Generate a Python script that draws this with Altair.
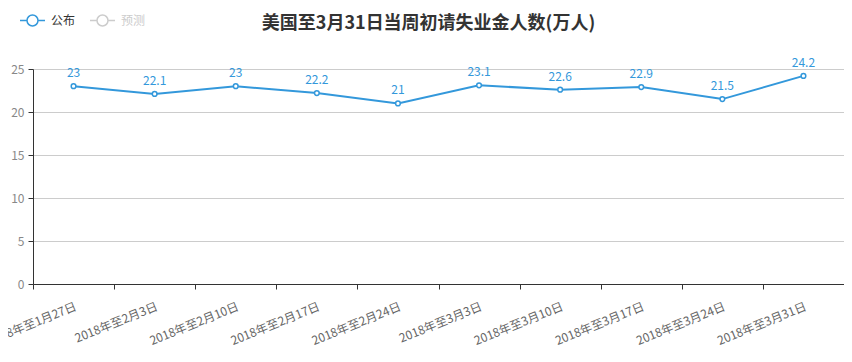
import altair as alt
import pandas as pd

categories = ["2018年至1月27日", "2018年至2月3日", "2018年至2月10日", "2018年至2月17日",
              "2018年至2月24日", "2018年至3月3日", "2018年至3月10日", "2018年至3月17日",
              "2018年至3月24日", "2018年至3月31日"]
published = [23, 22.1, 23, 22.2, 21, 23.1, 22.6, 22.9, 21.5, 24.2]
series_names = ["公布", "预测"]

BLUE = "#3398DB"
FONT = "Noto Sans CJK SC"

df = pd.DataFrame({"week": categories, "value": published, "series": series_names[0]})

x = alt.X("week:N", sort=categories, title=None,
          scale=alt.Scale(paddingInner=0, paddingOuter=0),
          axis=alt.Axis(tickBand="extent", labelAngle=-22, labelAlign="right",
                        labelBaseline="top", labelPadding=12, tickSize=5,
                        domainColor="#333", tickColor="#333", labelColor="#666",
                        labelFontSize=12, labelFont=FONT, grid=False))
y = alt.Y("value:Q", title=None,
          scale=alt.Scale(domain=[0, 25], nice=False),
          axis=alt.Axis(values=[0, 5, 10, 15, 20, 25], tickSize=5, labelPadding=4,
                        domainColor="#333", tickColor="#333", labelColor="#888",
                        labelFontSize=12, labelFont=FONT, gridColor="#ccc"))

legend_path = ("M-1,0L-0.44,0M0.44,0L1,0"
               "M-0.44,0A0.44,0.44 0 1,1 0.44,0A0.44,0.44 0 1,1 -0.44,0")

color = alt.Color("series:N", title=None,
                  scale=alt.Scale(domain=series_names, range=[BLUE, "#ccc"]),
                  legend=alt.Legend(orient="none", legendX=-14, legendY=-62,
                                    direction="horizontal", symbolType=legend_path,
                                    symbolSize=625, symbolStrokeWidth=1.5,
                                    symbolFillColor="white", labelFontSize=12,
                                    labelFont=FONT, labelOffset=5, columnPadding=11,
                                    labelColor={"expr": "datum.label === '预测' ? '#ccc' : '#333'"}))

base = alt.Chart(df)
line = base.mark_line(strokeWidth=2).encode(x=x, y=y, color=color)
points = base.mark_point(filled=True, fill="white", stroke=BLUE, strokeWidth=1.5,
                         size=22, opacity=1).encode(x=x, y=y)
labels = base.mark_text(dy=-13, color=BLUE, fontSize=12, font=FONT).encode(
    x=x, y=y, text=alt.Text("value:Q"))

chart = alt.layer(line, points, labels).properties(
    width=811, height=215,
    title=alt.TitleParams("美国至3月31日当周初请失业金人数(万人)", anchor="middle",
                          fontSize=18, fontWeight="bold", color="#333", font=FONT,
                          offset=-26, dx=-10),
    autosize=alt.AutoSizeParams(type="none"),
    padding={"left": 25, "top": 61, "right": 0, "bottom": 70},
).configure_view(stroke=None)

chart.save("out.html", embed_options={"renderer": "svg", "actions": False})
